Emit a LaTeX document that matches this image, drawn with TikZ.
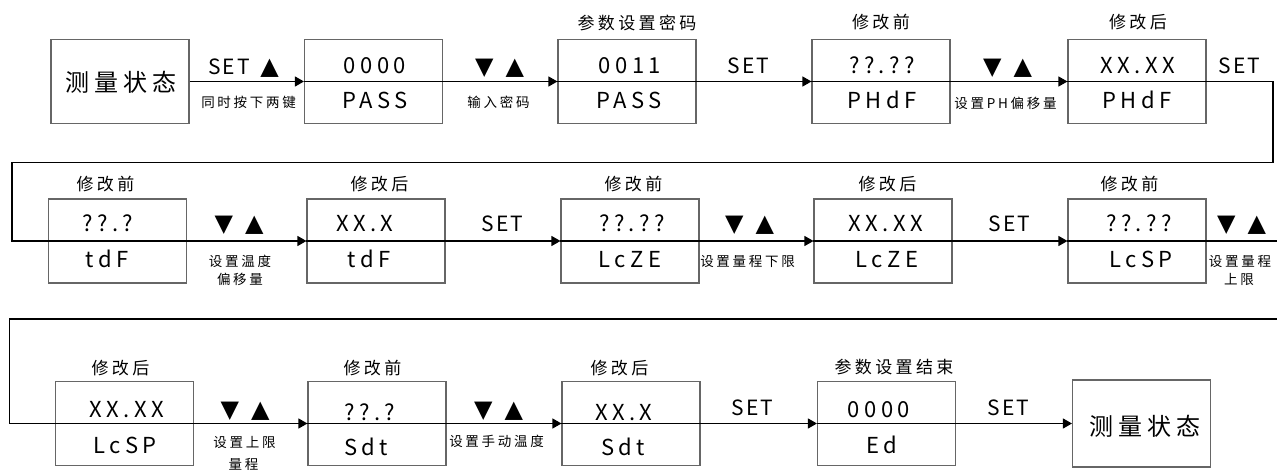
\documentclass[tikz,border=0pt]{standalone}
\usepackage{fontspec}
\usetikzlibrary{arrows.meta}
\setmainfont{Noto Sans CJK SC}
\newfontfamily\cjk[LetterSpace=20]{Noto Sans CJK SC}
\newfontfamily\lat[LetterSpace=20]{Noto Sans CJK SC}
\newfontfamily\setf[LetterSpace=10]{Noto Sans CJK SC}
\newfontfamily\tri{DejaVu Sans}
\tikzset{
  box/.style={draw=black!60, line width=1.1pt, minimum width=138pt, minimum height=84pt, inner sep=0pt},
  conn/.style={line width=1.1pt, draw=black},
  arr/.style={conn, -{Triangle[length=9pt,width=10pt]}},
  big/.style={font=\cjk\fontsize{24}{24}\selectfont, anchor=center, inner sep=0pt},
  val/.style={font=\lat\fontsize{22}{22}\selectfont, anchor=base, inner sep=0pt},
  ttl/.style={font=\cjk\fontsize{17}{17}\selectfont, anchor=center, inner sep=0pt},
  sm/.style={font=\cjk\fontsize{13.5}{13.5}\selectfont, anchor=center, inner sep=0pt},
  setl/.style={font=\setf\fontsize{21}{21}\selectfont, anchor=base, inner sep=0pt},
  tr/.style={font=\tri\fontsize{24}{24}\selectfont, anchor=base, inner sep=0pt}
}
\begin{document}
\begin{tikzpicture}[x=1pt,y=-1pt]
\clip (0,0) rectangle (1277,470);
% ---------- row 1 ----------
\node[box] (b1) at (120,81.5) {};
\node[box] (b2) at (373.5,81.5) {};
\node[box] (b3) at (627,81.5) {};
\node[box] (b4) at (881,81.5) {};
\node[box] (b5) at (1137,81.5) {};
% ---------- row 2 ----------
\node[box] (b6) at (117.5,241) {};
\node[box] (b7) at (376,241) {};
\node[box] (b8) at (630,241) {};
\node[box] (b9) at (883,241) {};
\node[box] (b10) at (1137,241) {};
% ---------- row 3 ----------
\node[box] (b11) at (124.5,423.5) {};
\node[box] (b12) at (377,423.5) {};
\node[box] (b13) at (631,423.5) {};
\node[box] (b14) at (886.5,423.5) {};
\node[box, minimum height=87pt] (b15) at (1141.5,423.5) {};
% dividers
\foreach \b in {b2,b3,b4,b5,b6,b7,b8,b9,b10,b11,b12,b13,b14}
  \draw[conn] (\b.west) -- (\b.east);
% connectors
\draw[arr] (b1.east) -- (b2.west);
\draw[arr] (b2.east) -- (b3.west);
\draw[arr] (b3.east) -- (b4.west);
\draw[arr] (b4.east) -- (b5.west);
\coordinate (r1a) at (1273,162.5);
\coordinate (r1b) at (12,162.5);
\draw[conn] (b5.east) -| (r1a) -- (r1b) |- (b6.west);
\draw[arr] (b6.east) -- (b7.west);
\draw[arr] (b7.east) -- (b8.west);
\draw[arr] (b8.east) -- (b9.west);
\draw[arr] (b9.east) -- (b10.west);
\coordinate (r2a) at (1280,319);
\coordinate (r2b) at (9.5,319);
\draw[conn] (b10.east) -| (r2a) -- (r2b) |- (b11.west);
\draw[arr] (b11.east) -- (b12.west);
\draw[arr] (b12.east) -- (b13.west);
\draw[arr] (b13.east) -- (b14.west);
\draw[arr] (b14.east) -- (b15.west);
% ---------- box texts ----------
\node[big] (t1) at (121,82.5) {测量状态};
\node[val] (t2a) at (375,74) {0000};
\node[val] (t2b) at (375,109) {PASS};
\node[val] (t3a) at (630,74) {0011};
\node[val] (t3b) at (629,109) {PASS};
\node[val] (t4a) at (882,74) {??.??};
\node[val] (t4b) at (882,109) {PHdF};
\node[val] (t5a) at (1138,74) {XX.XX};
\node[val] (t5b) at (1137,109) {PHdF};
\node[val] (t6a) at (108,232) {??.?};
\node[val] (t6b) at (107,268) {tdF};
\node[val] (t7a) at (365,232) {XX.X};
\node[val] (t7b) at (369,268) {tdF};
\node[val] (t8a) at (632,232) {??.??};
\node[val] (t8b) at (630,268) {LcZE};
\node[val] (t9a) at (886,232) {XX.XX};
\node[val] (t9b) at (887,268) {LcZE};
\node[val] (t10a) at (1139,232) {??.??};
\node[val] (t10b) at (1141,268) {LcSP};
\node[val] (t11a) at (127,417) {XX.XX};
\node[val] (t11b) at (125,453) {LcSP};
\node[val] (t12a) at (370,420) {??.?};
\node[val] (t12b) at (366,455) {Sdt};
\node[val] (t13a) at (624,420) {XX.X};
\node[val] (t13b) at (623,455) {Sdt};
\node[val] (t14a) at (879,417) {0000};
\node[val] (t14b) at (882,453) {Ed};
\node[big] (t15) at (1145,426) {测量状态};
% ---------- titles ----------
\node[ttl] (h3) at (637,22.5) {参数设置密码};
\node[ttl] (h4) at (881,22.5) {修改前};
\node[ttl] (h5) at (1138,22.5) {修改后};
\node[ttl] (h6) at (105.5,184.5) {修改前};
\node[ttl] (h7) at (379.5,184.5) {修改后};
\node[ttl] (h8) at (633.5,184.5) {修改前};
\node[ttl] (h9) at (887.5,184.5) {修改后};
\node[ttl] (h10) at (1129.5,184.5) {修改前};
\node[ttl] (h11) at (120.5,368) {修改后};
\node[ttl] (h12) at (372.5,368) {修改前};
\node[ttl] (h13) at (619.5,368) {修改后};
\node[ttl] (h14) at (894,367) {参数设置结束};
% ---------- edge labels ----------
\node[setl] (s12) at (229,74.5) {SET};
\node[tr] (k12) at (269.5,75) {▲};
\node[sm] (n12) at (248.5,102.5) {同时按下两键};
\node[tr] (k23) at (499.5,75) {▼\hspace{12pt}▲};
\node[sm] (n23) at (498.5,102.5) {输入密码};
\node[setl] (s34) at (748.5,74) {SET};
\node[tr] (k45) at (1007.5,75) {▼\hspace{12pt}▲};
\node[sm] (n45) at (1005.5,103.5) {设置PH偏移量};
\node[setl] (s56) at (1239.5,74) {SET};
\node[tr] (k67) at (239,232) {▼\hspace{12pt}▲};
\node[sm] (n67a) at (240,261) {设置温度};
\node[sm] (n67b) at (240,279.5) {偏移量};
\node[setl] (s78) at (502.5,232) {SET};
\node[tr] (k89) at (749.5,232) {▼\hspace{12pt}▲};
\node[sm] (n89) at (747.5,261.5) {设置量程下限};
\node[setl] (s910) at (1009.5,232) {SET};
\node[tr] (k1011) at (1241.5,232) {▼\hspace{12pt}▲};
\node[sm] (n1011a) at (1240,261) {设置量程};
\node[sm] (n1011b) at (1239,279) {上限};
\node[tr] (k1112) at (245,417) {▼\hspace{12pt}▲};
\node[sm] (n1112a) at (244.5,442.5) {设置上限};
\node[sm] (n1112b) at (243.5,464.5) {量程};
\node[tr] (k1213) at (498.5,417) {▼\hspace{12pt}▲};
\node[sm] (n1213) at (496.5,441.5) {设置手动温度};
\node[setl] (s1314) at (752.5,415) {SET};
\node[setl] (s1415) at (1008.5,415) {SET};
\end{tikzpicture}
\end{document}
